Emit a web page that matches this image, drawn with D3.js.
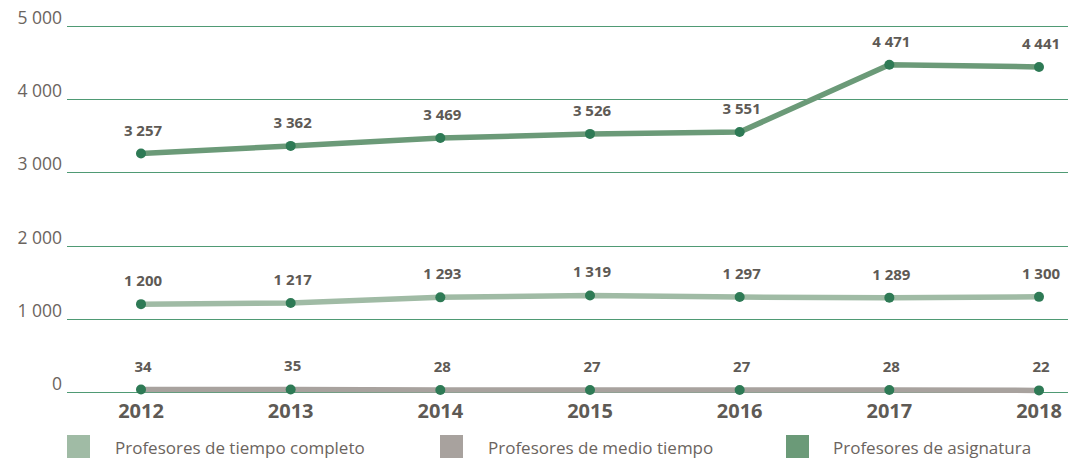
<!DOCTYPE html>
<html>
<head>
<meta charset="utf-8">
<script src="https://cdn.jsdelivr.net/npm/d3@7"></script>
<style>
  body { margin: 0; background: #fff; }
  svg { display: block; font-family: "Open Sans", sans-serif; }
</style>
</head>
<body>
<script>
// data
const years = ["2012", "2013", "2014", "2015", "2016", "2017", "2018"];
const tiempoCompleto = [1200, 1217, 1293, 1319, 1297, 1289, 1300];
const medioTiempo = [34, 35, 28, 27, 27, 28, 22];
const asignatura = [3257, 3362, 3469, 3526, 3551, 4471, 4441];
const yTicks = [0, 1000, 2000, 3000, 4000, 5000];
const seriesNames = ["Profesores de tiempo completo", "Profesores de medio tiempo", "Profesores de asignatura"];

let width = 1068,
    height = 458,
    svg = d3.select("body").append("svg")
            .attr("width", width)
            .attr("height", height);

let x = d3.scalePoint()
    .domain(years)
    .range([141, 1039]);

let y = d3.scaleLinear()
    .domain([0, 5000])
    .range([392, 26]);

let fmt = v => d3.format(",")(v).replace(/,/g, " ");

// gridlines + y labels
svg.append("g")
    .selectAll("line")
    .data(yTicks)
    .join("line")
    .attr("x1", 67)
    .attr("x2", width)
    .attr("y1", d => Math.round(y(d)) + 0.5)
    .attr("y2", d => Math.round(y(d)) + 0.5)
    .style("stroke", "#4f9a74")
    .style("stroke-width", 1);

svg.append("g")
    .selectAll("text")
    .data(yTicks)
    .join("text")
    .attr("x", 62)
    .attr("y", d => y(d) - 2)
    .attr("text-anchor", "end")
    .style("font-size", "17.5px")
    .style("fill", "#6b645e")
    .text(d => fmt(d));

// x labels
svg.append("g")
    .selectAll("text")
    .data(years)
    .join("text")
    .attr("x", d => x(d))
    .attr("y", 418)
    .attr("text-anchor", "middle")
    .style("font-size", "20px")
    .style("font-weight", "bold")
    .style("fill", "#5e5a55")
    .text(d => d);

let series = [
  { name: seriesNames[1], values: medioTiempo, color: "#a8a29e" },
  { name: seriesNames[0], values: tiempoCompleto, color: "#a0bba5" },
  { name: seriesNames[2], values: asignatura, color: "#6b9a78" }
];

let line = d3.line()
    .x((d, i) => x(years[i]))
    .y(d => y(d));

series.forEach(s => {
  svg.append("path")
      .datum(s.values)
      .attr("d", line)
      .style("fill", "none")
      .style("stroke", s.color)
      .style("stroke-width", 5.5);

  svg.append("g")
      .selectAll("circle")
      .data(s.values)
      .join("circle")
      .attr("cx", (d, i) => x(years[i]))
      .attr("cy", d => y(d))
      .attr("r", 5)
      .style("fill", "#2e7a55");

  svg.append("g")
      .selectAll("text")
      .data(s.values)
      .join("text")
      .attr("x", (d, i) => x(years[i]) + 2)
      .attr("y", d => y(d) - 18)
      .attr("text-anchor", "middle")
      .style("font-size", "15px")
      .style("font-weight", "bold")
      .style("fill", "#5e5a55")
      .text(d => fmt(d));
});

// legend
let legend = [
  { name: seriesNames[0], color: "#a0bba5", sx: 67, tx: 115 },
  { name: seriesNames[1], color: "#a8a29e", sx: 440, tx: 488 },
  { name: seriesNames[2], color: "#6b9a78", sx: 786, tx: 833 }
];

let lg = svg.append("g")
    .selectAll("g")
    .data(legend)
    .join("g");

lg.append("rect")
    .attr("x", d => d.sx)
    .attr("y", 435)
    .attr("width", 23)
    .attr("height", 23)
    .style("fill", d => d.color);

lg.append("text")
    .attr("x", d => d.tx)
    .attr("y", 454)
    .style("font-size", "17px")
    .style("fill", "#6b645e")
    .text(d => d.name);
</script>
</body>
</html>
